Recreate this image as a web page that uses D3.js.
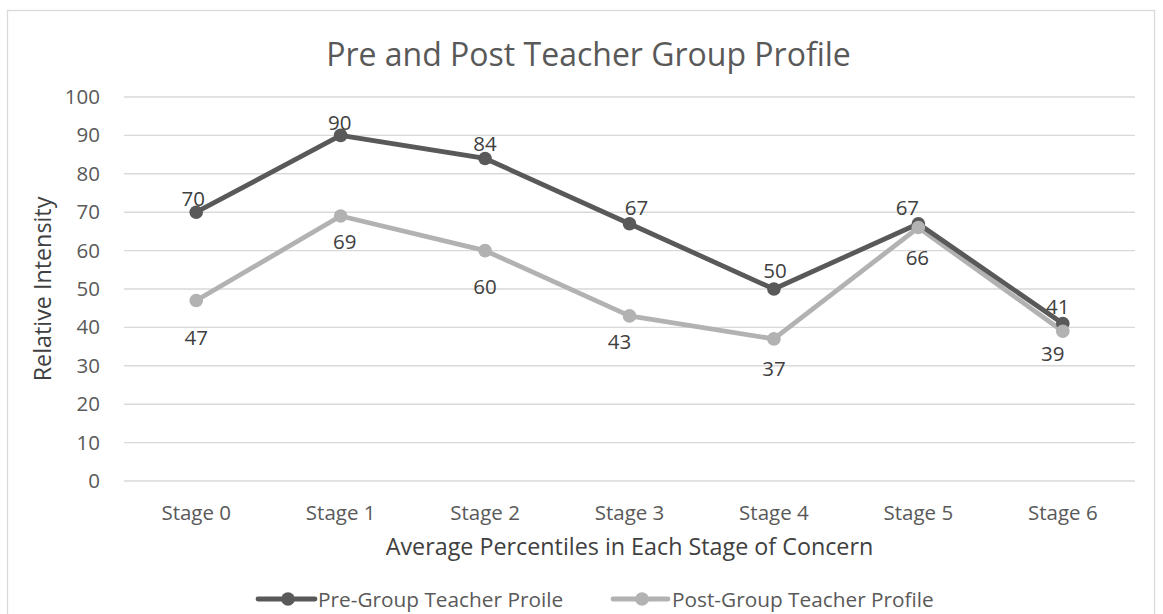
<!DOCTYPE html>
<html>
<head>
<meta charset="utf-8">
<script src="https://cdn.jsdelivr.net/npm/d3@7"></script>
<style>
  html, body { margin: 0; padding: 0; background: #fff; }
  svg { display: block; font-family: "Open Sans", "Noto Sans", sans-serif; }
</style>
</head>
<body>
<svg id="chart" width="1163" height="614"></svg>
<script>
// ---- data ----
const categories = ["Stage 0", "Stage 1", "Stage 2", "Stage 3", "Stage 4", "Stage 5", "Stage 6"];
const preValues  = [70, 90, 84, 67, 50, 67, 41];
const postValues = [47, 69, 60, 43, 37, 66, 39];
const seriesNames = ["Pre-Group Teacher Proile", "Post-Group Teacher Profile"];
const yTicks = [0, 10, 20, 30, 40, 50, 60, 70, 80, 90, 100];
const titleText = "Pre and Post Teacher Group Profile";
const xTitle = "Average Percentiles in Each Stage of Concern";
const yTitle = "Relative Intensity";

// label placement (pixel offsets from each point), mimicking the reference
const preLabelOffsets  = [[-3,-14],[-1,-13],[0,-15],[7,-17],[1,-19],[-11,-17],[-5,-18]];
const postLabelOffsets = [[0,36],[4,25],[0,35],[-10,25],[0,29],[-1,29],[-10,22]];

const colors = ["#595959", "#b2b2b2"];

const svg = d3.select("#chart");
const plot = { left: 124, right: 1135, top: 97, bottom: 481 };

// outer frame
svg.append("rect")
  .attr("x", 7.5).attr("y", 10.5)
  .attr("width", 1147).attr("height", 640)
  .attr("fill", "#fff").attr("stroke", "#d9d9d9").attr("stroke-width", 1.3);

const x = d3.scaleBand().domain(categories).range([plot.left, plot.right]);
const y = d3.scaleLinear().domain([0, 100]).range([plot.bottom, plot.top]);
const cx = d => x(d) + x.bandwidth() / 2;

// gridlines
svg.append("g").selectAll("line").data(yTicks).join("line")
  .attr("x1", plot.left).attr("x2", plot.right)
  .attr("y1", d => y(d)).attr("y2", d => y(d))
  .attr("stroke", "#d9d9d9").attr("stroke-width", 1.4);

// y axis ticks
const yAxis = d3.axisLeft(y).tickValues(yTicks).tickSize(0).tickPadding(0);
const gy = svg.append("g").attr("transform", `translate(100,0)`).call(yAxis);
gy.select(".domain").remove();
gy.selectAll("text").attr("font-size", 20.5).attr("fill", "#595959")
  .attr("font-family", "'Open Sans', sans-serif");

// x axis ticks
const xAxis = d3.axisBottom(x).tickSize(0).tickPadding(0);
const gx = svg.append("g").attr("transform", `translate(0,${plot.bottom})`).call(xAxis);
gx.select(".domain").remove();
gx.selectAll("text").attr("font-size", 20.5).attr("fill", "#595959")
  .attr("font-family", "'Open Sans', sans-serif")
  .attr("dy", null).attr("y", 39);

// title
svg.append("text").attr("x", (327 + 850) / 2).attr("y", 66)
  .attr("text-anchor", "middle").attr("font-size", 32).attr("fill", "#595959")
  .text(titleText);

// axis titles
svg.append("text").attr("x", (plot.left + plot.right) / 2).attr("y", 555)
  .attr("text-anchor", "middle").attr("font-size", 23.3).attr("fill", "#404040")
  .text(xTitle);
svg.append("text")
  .attr("transform", `translate(42,${(plot.top + plot.bottom) / 2}) rotate(-90)`)
  .attr("text-anchor", "middle").attr("dominant-baseline", "central")
  .attr("font-size", 23.3).attr("fill", "#404040")
  .text(yTitle);

// series
const series = [
  { name: seriesNames[0], values: preValues, color: colors[0], offsets: preLabelOffsets },
  { name: seriesNames[1], values: postValues, color: colors[1], offsets: postLabelOffsets }
];
const line = d3.line().x((d, i) => cx(categories[i])).y(d => y(d));

series.slice().reverse().forEach(s => {
  svg.append("path").datum(s.values)
    .attr("d", line).attr("fill", "none")
    .attr("stroke", s.color).attr("stroke-width", 4.8)
    .attr("stroke-linejoin", "round").attr("stroke-linecap", "round");
});
series.forEach(s => {
  svg.append("g").selectAll("circle").data(s.values).join("circle")
    .attr("cx", (d, i) => cx(categories[i])).attr("cy", d => y(d))
    .attr("r", 6.8).attr("fill", s.color);
});

// data labels
series.forEach(s => {
  svg.append("g").selectAll("text").data(s.values).join("text")
    .attr("x", (d, i) => cx(categories[i]) + s.offsets[i][0])
    .attr("y", (d, i) => y(d) + s.offsets[i][1])
    .attr("text-anchor", "middle").attr("dominant-baseline", "central")
    .attr("font-size", 20.5).attr("fill", "#404040")
    .text(d => d);
});

// legend
const legendItems = [
  { name: seriesNames[0], color: colors[0], x1: 258, x2: 315, mx: 288, tx: 318 },
  { name: seriesNames[1], color: colors[1], x1: 613, x2: 668, mx: 642, tx: 672 }
];
const ly = 599;
const lg = svg.append("g");
legendItems.forEach(it => {
  lg.append("line").attr("x1", it.x1).attr("x2", it.x2).attr("y1", ly).attr("y2", ly)
    .attr("stroke", it.color).attr("stroke-width", 4.8).attr("stroke-linecap", "round");
  lg.append("circle").attr("cx", it.mx).attr("cy", ly).attr("r", 6.8).attr("fill", it.color);
  lg.append("text").attr("x", it.tx).attr("y", ly).attr("dominant-baseline", "central")
    .attr("font-size", 20.8).attr("fill", "#595959").text(it.name);
});
</script>
</body>
</html>
